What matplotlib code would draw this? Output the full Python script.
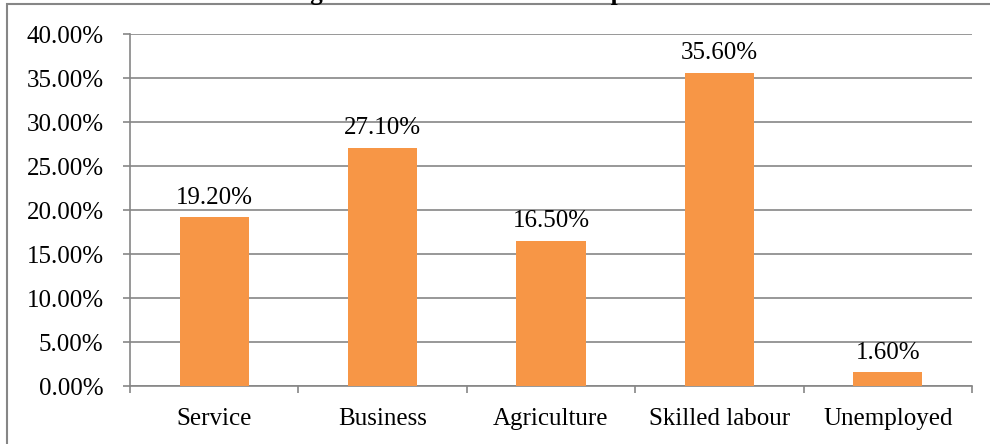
import matplotlib.pyplot as plt
from matplotlib.patches import Rectangle
from matplotlib.ticker import FuncFormatter, FixedLocator
import numpy as np

plt.rcParams['font.family'] = ['Liberation Serif', 'DejaVu Serif']

occupations = ['Service', 'Business', 'Agriculture', 'Skilled labour', 'Unemployed']
share = [19.20, 27.10, 16.50, 35.60, 1.60]
title = 'Figure 1: Distribution of Occupation'

fig = plt.figure(figsize=(9.9, 4.44), dpi=100)
ax = fig.add_axes([0.1313, 0.1306, 0.8505, 0.7928])

x = np.arange(len(occupations))
vals = np.array(share) / 100
ax.bar(x, vals, width=0.41, color='#F79646', zorder=3)
for xi, v in zip(x, vals):
    ax.annotate(f'{v * 100:.2f}%', (xi, v), xytext=(0, 6), textcoords='offset points',
                ha='center', va='bottom', fontsize=18)

ax.set_xlim(-0.5, len(occupations) - 0.5)
ax.set_ylim(0, 0.40)
ax.set_yticks(np.arange(0, 0.401, 0.05))
ax.yaxis.set_major_formatter(FuncFormatter(lambda v, p: f'{v * 100:.2f}%'))
ax.set_xticks(x)
ax.set_xticklabels(occupations)
ax.xaxis.set_minor_locator(FixedLocator(np.arange(-0.5, len(occupations), 1.0)))

grey = '#868686'
ax.grid(axis='y', color=grey, linewidth=1.2, zorder=0)
for s in ['top', 'right']:
    ax.spines[s].set_visible(False)
ax.spines['left'].set_color(grey)
ax.spines['bottom'].set_color(grey)
ax.spines['left'].set_linewidth(1.2)
ax.spines['bottom'].set_linewidth(1.2)
ax.tick_params(axis='y', length=5, color=grey, width=1.2, pad=14, labelsize=18)
ax.tick_params(axis='x', which='major', length=0, pad=16, labelsize=18)
ax.tick_params(axis='x', which='minor', length=5, color=grey, width=1.2)

# chart frame, runs off the right and bottom edges
top = 1 - 4.5 / 444
fig.patches.append(Rectangle((7 / 990, -0.05), 1.0, top + 0.05,
                             transform=fig.transFigure, fill=False,
                             edgecolor=grey, linewidth=1.5))
fig.text(0.488, 1.001, title, ha='center', va='baseline', fontsize=18,
         fontweight='bold')

fig.savefig('out.png', dpi=100)
